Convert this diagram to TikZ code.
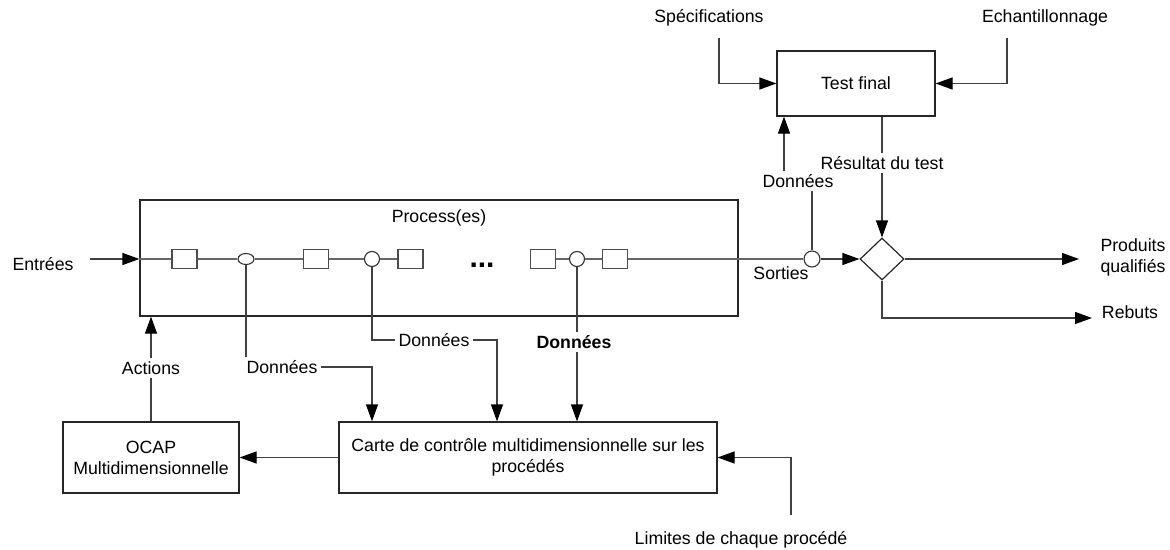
\documentclass[tikz,border=0pt]{standalone}
\usepackage{fontspec}
\setmainfont{Liberation Sans}
\usetikzlibrary{positioning, arrows.meta, shapes.geometric}

\begin{document}
\begin{tikzpicture}[x=1pt, y=-1pt,
	every node/.style={font=\fontsize{17.7}{21}\selectfont, inner sep=3pt},
	blok/.style={draw=black!85, line width=1.2pt, inner sep=0pt, align=center},
	petit/.style={draw=black!70, line width=1.1pt, minimum width=25, minimum height=19, inner sep=0pt},
	rond/.style={draw=black!80, line width=1.1pt, circle, minimum size=15, inner sep=0pt},
	fil/.style={draw=black!60, line width=1.2pt},
	lien/.style={draw=black!75, line width=1.2pt},
	arr/.style={lien, -{Triangle[length=17pt, width=12pt, color=black]}}]
		
		\useasboundingbox (0,0) rectangle (1170,549);
		
		\node[blok, minimum width=598, minimum height=116] (proc) at (439,258) {};
		\node (proclbl) at (439,218) {Process(es)};
		\node[blok, minimum width=158, minimum height=65] (tf) at (856,83.5) {Test final};
		\node[blok, minimum width=176, minimum height=71] (ocap) at (151,457.5) {OCAP\\Multidimensionnelle};
		\node[blok, minimum width=378, minimum height=71] (carte) at (528,457.5) {Carte de contrôle multidimensionnelle sur les\\procédés};
		\node[draw=black!85, line width=1.2pt, diamond, minimum width=44, minimum height=42, inner sep=0pt] (dec) at (882,259) {};
		
		\node[petit] (b1) at (184.5,259) {};
		\node[draw=black!80, line width=1.1pt, ellipse, minimum width=16, minimum height=11, inner sep=0pt] (c1) at (246,259) {};
		\node[petit] (b2) at (316,259) {};
		\node[rond] (c2) at (372,259) {};
		\node[petit] (b3) at (410.5,259) {};
		\node[font=\fontsize{30}{30}\selectfont\bfseries] (dots) at (482,265) {...};
		\node[petit] (b4) at (543,259) {};
		\node[rond] (c3) at (577,259) {};
		\node[petit] (b5) at (615,259) {};
		\node[rond, minimum size=16] (out) at (812,259) {};
		
		\node (in) at (43,264) {Entrées};
		\node (sort) at (781,273) {Sorties};
		\node (spec) at (709,18) {Spécifications};
		\node (ech) at (1045,18) {Echantillonnage};
		\node (don4) at (798,181) {Données};
		\node (res) at (882,163) {Résultat du test};
		\node[align=center] (prod) at (1133,257) {Produits\\qualifiés};
		\node (reb) at (1130,312) {Rebuts};
		\node (act) at (151,368) {Actions};
		\node (don1) at (282,367) {Données};
		\node (don2) at (434,340) {Données};
		\node (don3) at (574,342) {\textbf{Données}};
		\node (lim) at (741,540) {Limites de chaque procédé};
		
		\coordinate (inpt) at (90,259);
		\coordinate (sx) at (719,38);
		\coordinate (ex) at (1007,38);
		\coordinate (dx) at (784,0);
		\coordinate (d2x) at (497,0);
		\coordinate (pq) at (1079,259);
		\coordinate (rb) at (1092,318);
		\coordinate (lx) at (791,515);
		
		% chaine du procede
		\draw[fil] (proc.west |- b1) -- (b1) -- (c1) -- (b2) -- (c2) -- (b3);
		\draw[fil] (b4) -- (c3) -- (b5) -- (out);
		\draw[arr] (inpt) -- (proc.west |- inpt);
		
		% test final
		\draw[arr] (sx) |- (tf.west);
		\draw[arr] (ex) |- (tf.east);
		\draw[lien] (out) -- (out.north |- don4.south);
		\draw[arr] (don4.north -| dx) -- (tf.south -| dx);
		\draw[lien] (tf.south -| res) -- (res);
		\draw[arr] (res) -- (dec);
		\draw[arr] (out) -- (dec);
		\draw[arr] (dec) -- (pq);
		\draw[arr] (dec.south) |- (rb);
		
		% donnees vers la carte
		\draw[lien] (c1.south) -- (c1.south |- don1.north);
		\draw[arr] (don1.east) -| (carte.north -| c2);
		\draw[lien] (c2.south) |- (don2.west);
		\draw[arr] (don2.east) -| (carte.north -| d2x);
		\draw[lien] (c3.south) -- (c3.south |- don3.north);
		\draw[arr] (don3.south -| c3) -- (carte.north -| c3);
		
		\draw[arr] (carte) -- (ocap);
		\draw[lien] (ocap) -- (act);
		\draw[arr] (act) -- (act |- proc.south);
		\draw[arr] (lx) |- (carte.east);
		
\end{tikzpicture}
\end{document}
